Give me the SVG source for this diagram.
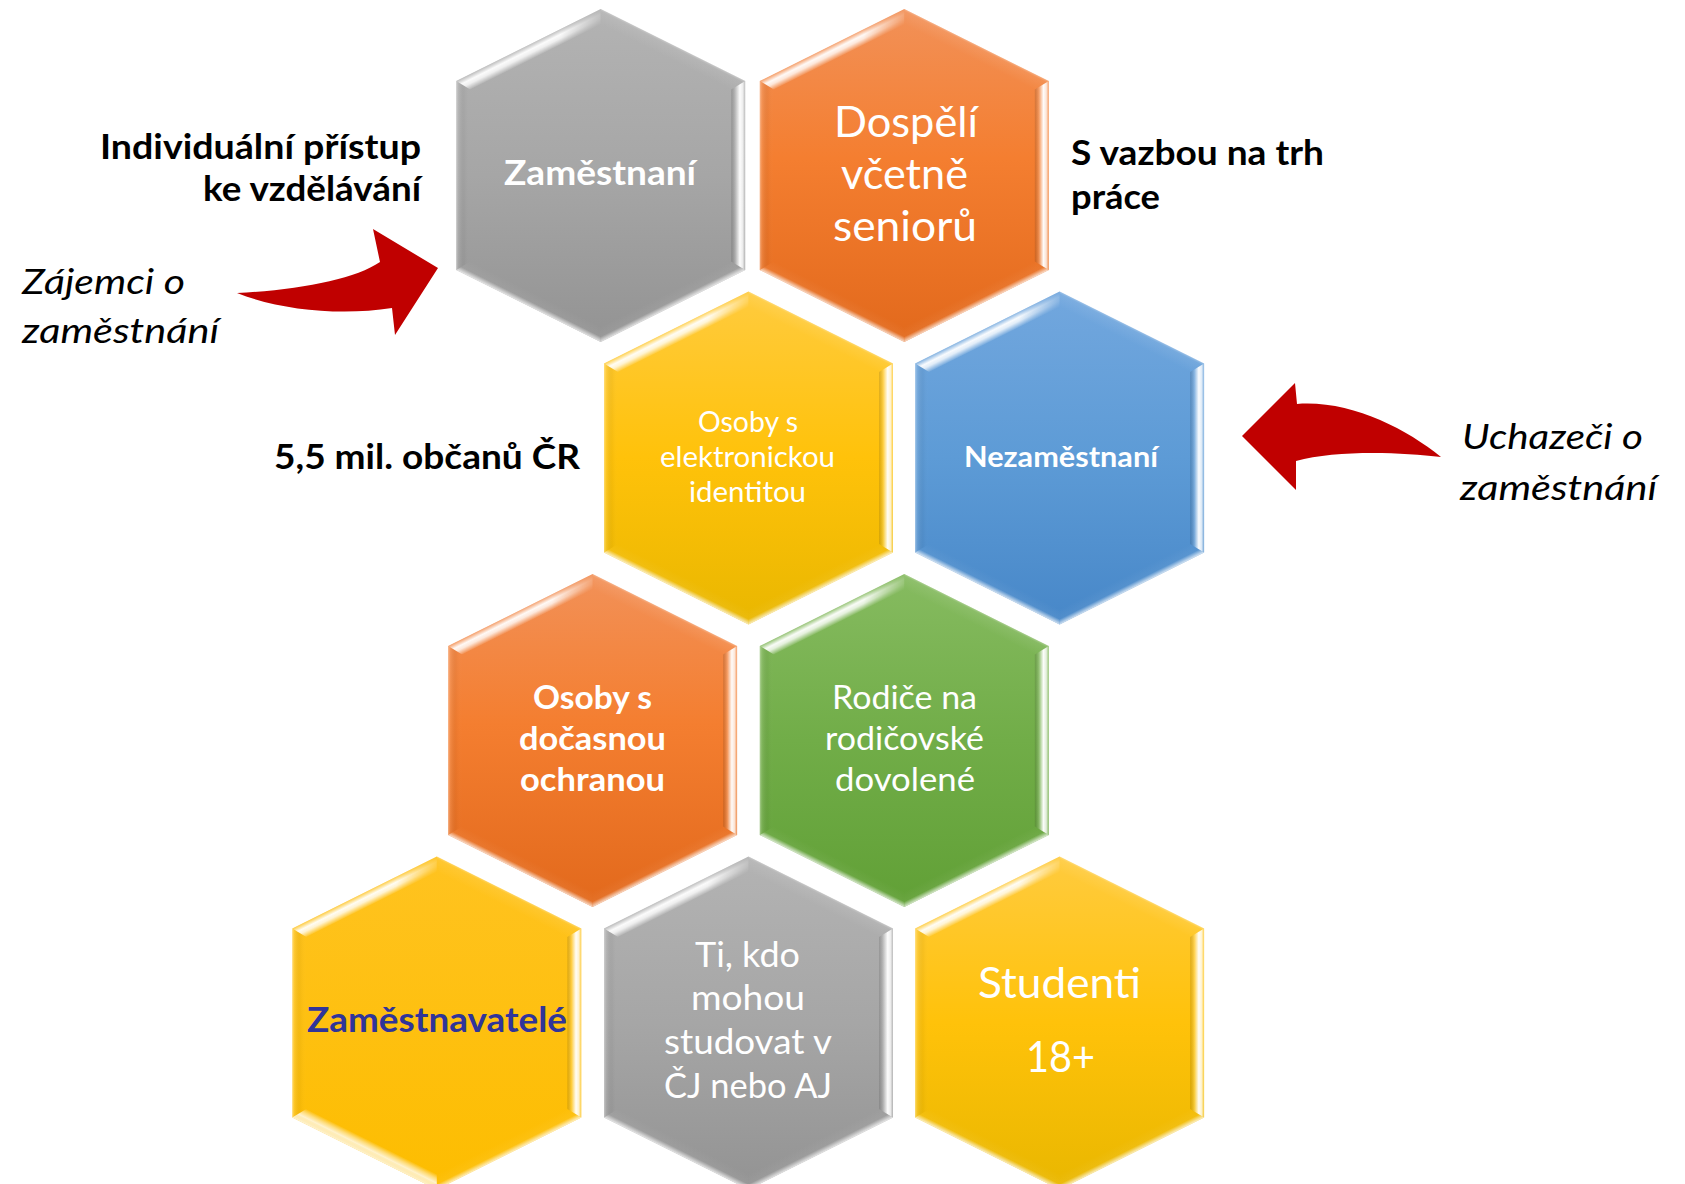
<svg xmlns="http://www.w3.org/2000/svg" xmlns:xlink="http://www.w3.org/1999/xlink" width="1685" height="1184" viewBox="0 0 1685 1184">
<style>
.t{font-family:Lato,"Open Sans","Liberation Sans",sans-serif;fill:#fff;}
.b{font-weight:bold;}
.k{fill:#000;}
.i{font-style:italic;}
.arrow{fill:#c00000;}
</style>
<defs>
<path id="hex" d="M0,-166.5 L144.5,-94.5 L144.5,94.5 L0,166.5 L-144.5,94.5 L-144.5,-94.5 Z"/>
<linearGradient id="gGray" x1="0" y1="0" x2="0" y2="1"><stop offset="0" stop-color="#b3b3b3"/><stop offset="0.5" stop-color="#a6a6a6"/><stop offset="1" stop-color="#939393"/></linearGradient>
<linearGradient id="gOrange" x1="0" y1="0" x2="0" y2="1"><stop offset="0" stop-color="#f29158"/><stop offset="0.45" stop-color="#f47e30"/><stop offset="1" stop-color="#e2691c"/></linearGradient>
<linearGradient id="gYellow" x1="0" y1="0" x2="0" y2="1"><stop offset="0" stop-color="#ffcb3e"/><stop offset="0.5" stop-color="#ffc20a"/><stop offset="1" stop-color="#e9b700"/></linearGradient>
<linearGradient id="gBlue" x1="0" y1="0" x2="0" y2="1"><stop offset="0" stop-color="#72a7de"/><stop offset="0.5" stop-color="#5d9bd6"/><stop offset="1" stop-color="#4787c8"/></linearGradient>
<linearGradient id="gGreen" x1="0" y1="0" x2="0" y2="1"><stop offset="0" stop-color="#86bb60"/><stop offset="0.5" stop-color="#71ad48"/><stop offset="1" stop-color="#61a036"/></linearGradient>
<linearGradient id="gYellow2" x1="0" y1="0" x2="0" y2="1"><stop offset="0" stop-color="#ffc320"/><stop offset="1" stop-color="#fdbd00"/></linearGradient>
<linearGradient id="bUL" gradientUnits="userSpaceOnUse" x1="-72.25" y1="-130.5" x2="-66" y2="-118"><stop offset="0" stop-color="#fff" stop-opacity="0.2"/><stop offset="0.35" stop-color="#fff" stop-opacity="0.95"/><stop offset="0.6" stop-color="#fff" stop-opacity="0.8"/><stop offset="1" stop-color="#fff" stop-opacity="0.05"/></linearGradient>
<linearGradient id="mULg" gradientUnits="userSpaceOnUse" x1="-145" y1="0" x2="0" y2="0"><stop offset="0" stop-color="#fff"/><stop offset="0.72" stop-color="#fff"/><stop offset="1" stop-color="#333"/></linearGradient>
<mask id="mUL" maskUnits="userSpaceOnUse" x="-150" y="-170" width="160" height="90"><rect x="-150" y="-170" width="160" height="90" fill="url(#mULg)"/></mask>
<linearGradient id="bR" gradientUnits="userSpaceOnUse" x1="130.5" y1="0" x2="144.5" y2="0"><stop offset="0" stop-color="#000" stop-opacity="0.12"/><stop offset="0.3" stop-color="#fff" stop-opacity="0.2"/><stop offset="0.62" stop-color="#fff" stop-opacity="0.97"/><stop offset="0.82" stop-color="#fff" stop-opacity="0.8"/><stop offset="1" stop-color="#fff" stop-opacity="0.2"/></linearGradient>
<linearGradient id="bBR" gradientUnits="userSpaceOnUse" x1="72.25" y1="130.5" x2="66" y2="118"><stop offset="0" stop-color="#fff" stop-opacity="0.75"/><stop offset="0.15" stop-color="#fff" stop-opacity="0.45"/><stop offset="0.35" stop-color="#fff" stop-opacity="0.05"/><stop offset="1" stop-color="#fff" stop-opacity="0"/></linearGradient>
<linearGradient id="bBL" gradientUnits="userSpaceOnUse" x1="-72.25" y1="130.5" x2="-66" y2="118"><stop offset="0" stop-color="#fff" stop-opacity="0.75"/><stop offset="0.15" stop-color="#fff" stop-opacity="0.45"/><stop offset="0.35" stop-color="#fff" stop-opacity="0.05"/><stop offset="1" stop-color="#fff" stop-opacity="0"/></linearGradient>
<linearGradient id="bBL2" gradientUnits="userSpaceOnUse" x1="-72.25" y1="130.5" x2="-66" y2="118"><stop offset="0" stop-color="#fff" stop-opacity="0.3"/><stop offset="0.4" stop-color="#fff" stop-opacity="0.8"/><stop offset="0.7" stop-color="#fff" stop-opacity="0.45"/><stop offset="1" stop-color="#fff" stop-opacity="0"/></linearGradient>
<linearGradient id="bL" gradientUnits="userSpaceOnUse" x1="-144.5" y1="0" x2="-130.5" y2="0"><stop offset="0" stop-color="#fff" stop-opacity="0.4"/><stop offset="0.15" stop-color="#fff" stop-opacity="0.12"/><stop offset="0.6" stop-color="#000" stop-opacity="0.03"/><stop offset="1" stop-color="#fff" stop-opacity="0"/></linearGradient>
<linearGradient id="bTR" gradientUnits="userSpaceOnUse" x1="72.25" y1="-130.5" x2="66" y2="-118"><stop offset="0" stop-color="#fff" stop-opacity="0.3"/><stop offset="0.15" stop-color="#fff" stop-opacity="0.08"/><stop offset="1" stop-color="#fff" stop-opacity="0"/></linearGradient>
<g id="bevel">
<path d="M-144.5,-94.5 L0,-166.5 L0,-151 L-130.5,-86 Z" fill="url(#bUL)" mask="url(#mUL)"/>
<path d="M144.5,-94.5 L144.5,94.5 L130.5,86 L130.5,-86 Z" fill="url(#bR)"/>
<path d="M144.5,94.5 L0,166.5 L0,151 L130.5,86 Z" fill="url(#bBR)"/>
<path d="M-144.5,94.5 L0,166.5 L0,151 L-130.5,86 Z" fill="url(#bBL)"/>
<path d="M-144.5,-94.5 L-144.5,94.5 L-130.5,86 L-130.5,-86 Z" fill="url(#bL)"/>
<path d="M0,-166.5 L144.5,-94.5 L130.5,-86 L0,-151 Z" fill="url(#bTR)"/>
</g>
</defs>
<rect width="1685" height="1184" fill="#fff"/>

<g id="connectors">
<path class="arrow" d="M438,268 L373,229 L380,262 C355,279 300,290 237,293 C280,310 340,316 392,308 L395,335 Z"/>
<path class="arrow" d="M1242,436 L1295,383 L1297,404 C1350,400 1405,428 1441,457 C1400,452 1335,450 1296,461 L1296,490 Z"/>
</g>

<g id="labels">
<text class="t k b" font-size="34" x="100" y="159" textLength="321" lengthAdjust="spacingAndGlyphs">Individuální přístup</text>
<text class="t k b" font-size="34" x="203" y="201" textLength="218" lengthAdjust="spacingAndGlyphs">ke vzdělávání</text>
<text class="t k i" font-size="34" x="22" y="294" textLength="163" lengthAdjust="spacingAndGlyphs">Zájemci o</text>
<text class="t k i" font-size="34" x="22" y="343" textLength="197" lengthAdjust="spacingAndGlyphs">zaměstnání</text>
<text class="t k b" font-size="34" x="1071" y="165" textLength="253" lengthAdjust="spacingAndGlyphs">S vazbou na trh</text>
<text class="t k b" font-size="34" x="1071" y="209" textLength="89" lengthAdjust="spacingAndGlyphs">práce</text>
<text class="t k i" font-size="34" x="1462" y="449" textLength="181" lengthAdjust="spacingAndGlyphs">Uchazeči o</text>
<text class="t k i" font-size="34" x="1460" y="500" textLength="197" lengthAdjust="spacingAndGlyphs">zaměstnání</text>
<text class="t k b" font-size="34" x="274" y="469" textLength="306" lengthAdjust="spacingAndGlyphs">5,5 mil. občanů ČR</text>
</g>

<g id="node-zamestnani">
<use xlink:href="#hex" href="#hex" transform="translate(600.7,175.5)" fill="url(#gGray)"/>
<use xlink:href="#bevel" href="#bevel" transform="translate(600.7,175.5)"/>
<text class="t b" font-size="35" x="504" y="185" textLength="192" lengthAdjust="spacingAndGlyphs">Zaměstnaní</text>
</g>

<g id="node-dospeli">
<use xlink:href="#hex" href="#hex" transform="translate(904.3,175.5)" fill="url(#gOrange)"/>
<use xlink:href="#bevel" href="#bevel" transform="translate(904.3,175.5)"/>
<text class="t" font-size="43" x="834" y="137" textLength="144" lengthAdjust="spacingAndGlyphs">Dospělí</text>
<text class="t" font-size="43" x="841" y="189" textLength="127" lengthAdjust="spacingAndGlyphs">včetně</text>
<text class="t" font-size="43" x="833" y="241" textLength="144" lengthAdjust="spacingAndGlyphs">seniorů</text>
</g>

<g id="node-eid">
<use xlink:href="#hex" href="#hex" transform="translate(748.5,458)" fill="url(#gYellow)"/>
<use xlink:href="#bevel" href="#bevel" transform="translate(748.5,458)"/>
<text class="t" font-size="28" x="698" y="432" textLength="100" lengthAdjust="spacingAndGlyphs">Osoby s</text>
<text class="t" font-size="28" x="660" y="467" textLength="175" lengthAdjust="spacingAndGlyphs">elektronickou</text>
<text class="t" font-size="28" x="689" y="502" textLength="117" lengthAdjust="spacingAndGlyphs">identitou</text>
</g>

<g id="node-nezamestnani">
<use xlink:href="#hex" href="#hex" transform="translate(1059.6,458)" fill="url(#gBlue)"/>
<use xlink:href="#bevel" href="#bevel" transform="translate(1059.6,458)"/>
<text class="t b" font-size="29" x="964" y="467" textLength="194" lengthAdjust="spacingAndGlyphs">Nezaměstnaní</text>
</g>

<g id="node-ochrana">
<use xlink:href="#hex" href="#hex" transform="translate(592.6,740.5)" fill="url(#gOrange)"/>
<use xlink:href="#bevel" href="#bevel" transform="translate(592.6,740.5)"/>
<text class="t b" font-size="32" x="533" y="709" textLength="119" lengthAdjust="spacingAndGlyphs">Osoby s</text>
<text class="t b" font-size="32" x="519" y="750" textLength="147" lengthAdjust="spacingAndGlyphs">dočasnou</text>
<text class="t b" font-size="32" x="520" y="791" textLength="145" lengthAdjust="spacingAndGlyphs">ochranou</text>
</g>

<g id="node-rodice">
<use xlink:href="#hex" href="#hex" transform="translate(904.3,740.5)" fill="url(#gGreen)"/>
<use xlink:href="#bevel" href="#bevel" transform="translate(904.3,740.5)"/>
<text class="t" font-size="32" x="832" y="709" textLength="145" lengthAdjust="spacingAndGlyphs">Rodiče na</text>
<text class="t" font-size="32" x="825" y="750" textLength="159" lengthAdjust="spacingAndGlyphs">rodičovské</text>
<text class="t" font-size="32" x="835" y="791" textLength="140" lengthAdjust="spacingAndGlyphs">dovolené</text>
</g>

<g id="node-zamestnavatele">
<use xlink:href="#hex" href="#hex" transform="translate(436.8,1023)" fill="url(#gYellow2)"/>
<use xlink:href="#bevel" href="#bevel" transform="translate(436.8,1023)"/>
<path transform="translate(436.8,1023)" d="M-144.5,94.5 L0,166.5 L0,151 L-130.5,86 Z" fill="url(#bBL2)"/>
<text class="t b" font-size="34" x="307" y="1032" textLength="260" lengthAdjust="spacingAndGlyphs" style="fill:#30349a">Zaměstnavatelé</text>
</g>

<g id="node-cj-aj">
<use xlink:href="#hex" href="#hex" transform="translate(748.5,1023)" fill="url(#gGray)"/>
<use xlink:href="#bevel" href="#bevel" transform="translate(748.5,1023)"/>
<text class="t" font-size="35" x="695" y="967" textLength="105" lengthAdjust="spacingAndGlyphs">Ti, kdo</text>
<text class="t" font-size="35" x="691" y="1010" textLength="114" lengthAdjust="spacingAndGlyphs">mohou</text>
<text class="t" font-size="35" x="664" y="1054" textLength="168" lengthAdjust="spacingAndGlyphs">studovat v</text>
<text class="t" font-size="35" x="664" y="1098" textLength="168" lengthAdjust="spacingAndGlyphs">ČJ nebo AJ</text>
</g>

<g id="node-studenti">
<use xlink:href="#hex" href="#hex" transform="translate(1059.6,1023)" fill="url(#gYellow)"/>
<use xlink:href="#bevel" href="#bevel" transform="translate(1059.6,1023)"/>
<text class="t" font-size="43" x="978" y="998" textLength="163" lengthAdjust="spacingAndGlyphs">Studenti</text>
<text class="t" font-size="43" x="1026" y="1072" textLength="69" lengthAdjust="spacingAndGlyphs">18+</text>
</g>
</svg>
